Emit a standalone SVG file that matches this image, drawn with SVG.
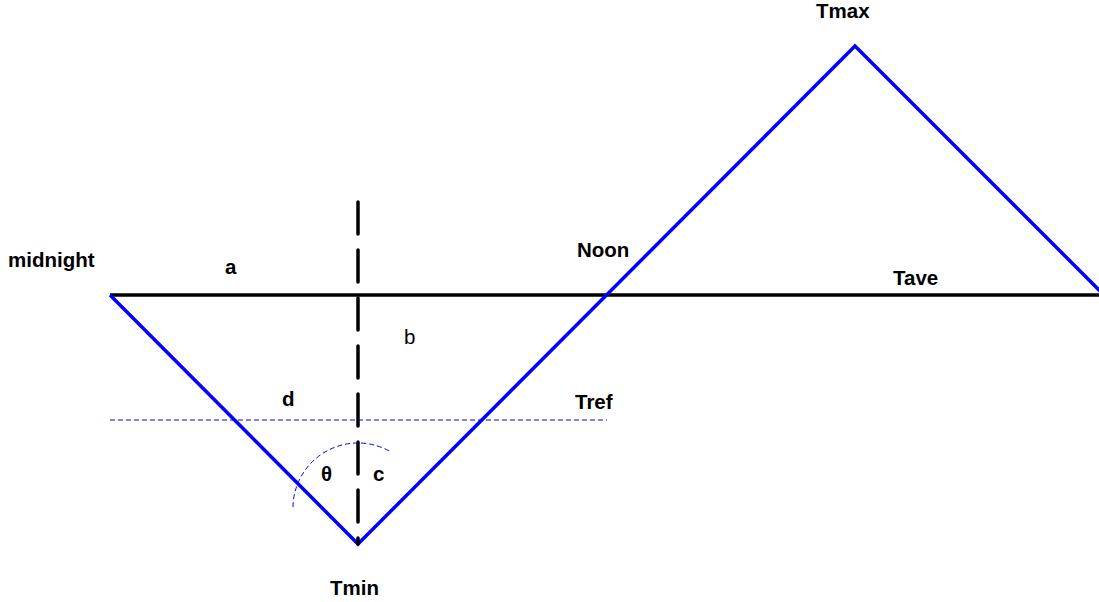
<svg xmlns="http://www.w3.org/2000/svg" width="1099" height="602" viewBox="0 0 1099 602">
<style>
text{font-family:"Liberation Sans",Arial,sans-serif;font-size:20.5px;font-weight:bold;fill:#000}
.n{font-weight:normal}
.curve{fill:none;stroke:#0000ff;stroke-width:3.5;stroke-linejoin:miter}
.axis{stroke:#000;stroke-width:3.5}
.vdash{stroke:#000;stroke-width:3.5;stroke-dasharray:32 16;stroke-linecap:round}
.thin{fill:none;stroke:#0000ff;stroke-width:1;stroke-dasharray:5 3}
</style>
<rect width="1099" height="602" fill="#fff"/>
<g id="connectors">
<line class="axis" x1="110" y1="295" x2="1099" y2="295"/>
<polyline class="curve" points="110,295 358,544 855,46 1103,294"/>
<line class="vdash" x1="358" y1="202" x2="358" y2="544"/>
<line class="thin" x1="110" y1="420" x2="607" y2="420"/>
<path class="thin" d="M293,507 A65,65 0 0 1 391,452"/>
</g>
<g id="labels">
<text id="midnight" x="8" y="267">midnight</text>
<text id="a" x="225" y="274">a</text>
<text id="b" class="n" x="404" y="344">b</text>
<text id="d" x="282" y="406">d</text>
<text id="Tref" x="575" y="409">Tref</text>
<text id="theta" x="321" y="481">θ</text>
<text id="c" x="373" y="481">c</text>
<text id="Tmin" x="330" y="595">Tmin</text>
<text id="Noon" x="577" y="257">Noon</text>
<text id="Tmax" x="816" y="18">Tmax</text>
<text id="Tave" x="893" y="285">Tave</text>
</g>
</svg>
